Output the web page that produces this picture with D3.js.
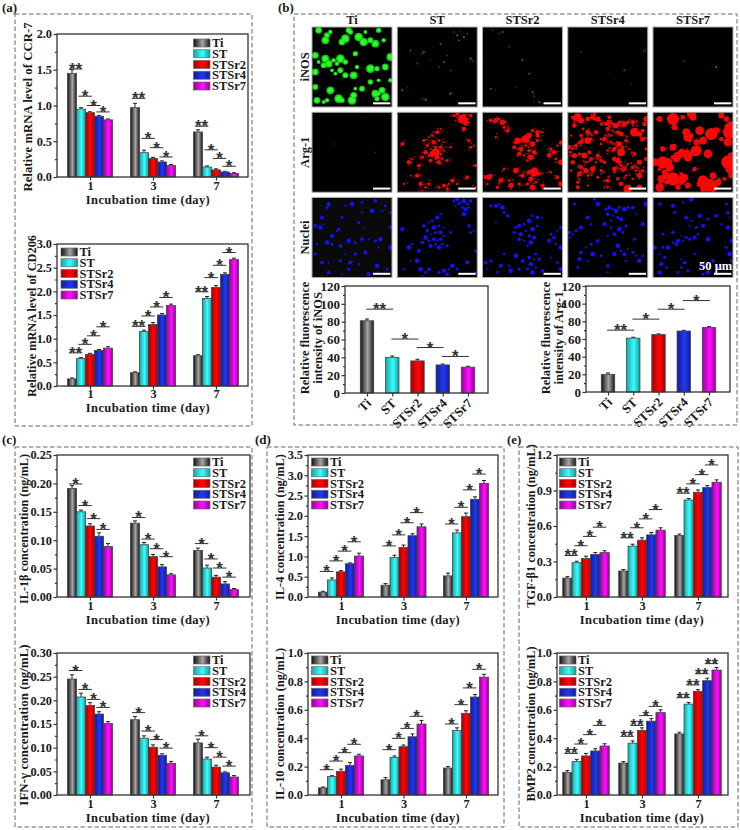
<!DOCTYPE html>
<html><head><meta charset="utf-8">
<script src="https://cdnjs.cloudflare.com/ajax/libs/d3/7.8.5/d3.min.js"></script>
<style>html,body{margin:0;padding:0;background:#fff}svg{display:block}
text{font-family:"Liberation Serif",serif;font-weight:bold;fill:#1a1a1a}</style></head>
<body><svg id="c" width="740" height="830"></svg>
<script>
const seriesNames=["Ti","ST","STSr2","STSr4","STSr7"];
const days=["1","3","7"];
const imageCols=["Ti","ST","STSr2","STSr4","STSr7"];
const imageRows=["iNOS","Arg-1","Nuclei"];

// values: three groups of five bars
const ccr7=[[1.45,.95,.9,.85,.8],[.97,.34,.26,.21,.16],[.63,.14,.1,.07,.05]];
const ccr7Err=[[.05,.02,.012,.012,.012],[.06,.035,.015,.015,.015],[.03,.015,.015,.01,.01]];
const ccr7Sig=[[1.51,1.13,1.0,.91],[1.10,.54,.41,.28],[.71,.38,.26,.15]];
const ccr7Marks=[["**","*","*","*"],["**","*","*","*"],["**","*","*","*"]];

const cd206=[[.15,.58,.67,.75,.8],[.28,1.15,1.3,1.5,1.7],[.64,1.85,2.08,2.36,2.67]];
const cd206Err=[[.02,.02,.02,.02,.03],[.02,.03,.04,.03,.03],[.02,.04,.04,.03,.03]];
const cd206Sig=[[.7,.88,1.06,1.25],[1.26,1.48,1.67,1.87],[1.99,2.29,2.55,2.82]];
const cd206Marks=[["**","*","*","*"],["**","*","*","*"],["**","*","*","*"]];

const il1b=[[.191,.15,.125,.107,.089],[.13,.092,.071,.053,.039],[.082,.051,.035,.023,.013]];
const il1bErr=[[.005,.003,.004,.006,.005],[.004,.004,.004,.004,.002],[.004,.005,.003,.004,.002]];
const il1bSig=[[.199,.161,.138,.119],[.14,.102,.085,.071],[.094,.067,.051,.035]];
const starOnly=[["*","*","*","*"],["*","*","*","*"],["*","*","*","*"]];

const ifng=[[.245,.207,.189,.171,.151],[.159,.12,.101,.084,.067],[.11,.076,.059,.047,.038]];
const ifngErr=[[.009,.008,.006,.005,.004],[.007,.005,.005,.003,.004],[.008,.004,.004,.002,.003]];
const ifngSig=[[.263,.223,.202,.185],[.174,.135,.117,.099],[.125,.1,.08,.061]];

const il4=[[.12,.42,.62,.82,1.01],[.29,.97,1.22,1.51,1.73],[.52,1.58,1.98,2.41,2.8]];
const il4Err=[[.02,.05,.03,.02,.07],[.04,.06,.06,.05,.07],[.07,.07,.09,.06,.07]];
const il4Sig=[[.63,.89,1.13,1.36],[1.26,1.53,1.83,2.08],[1.8,2.21,2.64,3.03]];

const il10=[[.05,.13,.167,.208,.275],[.107,.265,.34,.41,.5],[.19,.455,.575,.69,.83]];
const il10Err=[[.006,.006,.015,.02,.012],[.015,.01,.012,.02,.025],[.01,.018,.018,.018,.02]];
const il10Sig=[[.178,.239,.298,.357],[.319,.399,.469,.554],[.5,.636,.754,.885]];

const tgfb=[[.16,.29,.325,.36,.375],[.22,.43,.48,.525,.565],[.52,.82,.885,.925,.97]];
const tgfbErr=[[.012,.012,.02,.016,.016],[.012,.016,.02,.02,.02],[.012,.012,.02,.016,.02]];
const tgfbSig=[[.351,.433,.512,.59],[.5,.585,.66,.739],[.877,.956,1.034,1.116]];
const tgfbMarks=[["**","*","*","*"],["**","*","*","*"],["**","*","*","*"]];

const bmp2=[[.16,.235,.275,.31,.345],[.225,.365,.455,.52,.58],[.43,.64,.73,.805,.88]];
const bmp2Err=[[.012,.016,.018,.016,.016],[.01,.016,.018,.018,.02],[.012,.012,.012,.018,.018]];
const bmp2Sig=[[.293,.359,.425,.49],[.413,.49,.559,.624],[.685,.775,.854,.925]];
const bmp2Marks=[["**","*","*","*"],["**","**","*","*"],["**","**","**","**"]];

const inos=[81,40,36,31.5,29];
const inosErr=[2,1.5,1.8,1,1];
const inosSig=[94,60.5,51,41];
const inosMarks=["**","*","*","*"];
const arg1=[20,61,65,69,73];
const arg1Err=[1.5,1,.8,.8,1];
const arg1Sig=[70,82.5,93.7,103.5];
const arg1Marks=["**","*","*","*"];

const greenTi=[[45,25],[40,40],[55,15],[100,35],[115,15],[90,45],[160,15],[175,40],[190,50],[215,40],[155,45],[130,80],[10,85],[20,105],[35,115],[50,110],[65,100],[85,95],[100,105],[10,135],[70,140],[100,145],[125,145],[135,120],[175,125],[195,125],[220,120],[200,160],[10,180],[55,190],[45,220],[80,215],[90,220],[125,205],[130,185],[150,185],[190,200],[200,200],[220,210],[175,165],[15,220],[35,225],[110,10],[235,90],[235,160],[140,30],[200,10],[20,10],[60,130],[85,130],[40,95],[75,110],[120,220],[195,215],[210,190]];
const greenST=[[170,15],[180,25],[190,12],[200,30],[210,20],[185,40],[170,45],[75,80],[80,76],[150,85],[220,95],[225,102],[130,50],[100,100],[125,120],[15,190],[75,215],[85,218],[160,130],[40,70],[110,60],[60,110],[140,105],[30,180],[160,200]];
const greenSr2=[[155,210],[150,195],[152,203],[170,225],[175,227],[25,185],[40,190],[50,20],[60,15],[100,180],[120,100],[80,60],[140,140],[155,225],[30,10]];
const greenSr4=[[228,75],[232,70],[125,135],[170,130],[190,170],[40,75]];
const greenSr7=[[92,103],[190,120]];
const redTi=[[160,15],[70,95],[15,115],[190,120]];

const nucTi=[[45,30],[50,20],[100,25],[120,20],[150,15],[190,10],[210,40],[90,60],[30,60],[150,45],[180,40],[220,25],[10,85],[35,80],[80,95],[60,115],[75,100],[110,130],[130,135],[150,125],[170,125],[190,130],[205,125],[15,140],[45,135],[60,140],[85,145],[100,170],[130,170],[160,165],[200,150],[235,150],[10,170],[30,195],[50,195],[85,190],[115,195],[140,200],[195,205],[225,215],[50,225],[90,230],[110,215],[170,230],[200,225],[25,90],[235,45],[235,90],[155,90],[140,75]];
const nucST=[[170,10],[180,5],[190,15],[200,10],[210,20],[220,10],[175,25],[195,30],[205,35],[215,30],[200,50],[185,20],[80,85],[95,75],[105,70],[120,60],[130,50],[110,90],[125,85],[90,100],[100,110],[115,105],[130,105],[140,115],[85,120],[95,130],[110,125],[120,130],[130,125],[100,145],[115,140],[125,150],[135,140],[75,135],[140,90],[150,145],[65,160],[45,140],[35,150],[160,105],[215,85],[230,100],[220,105],[15,95],[20,215],[70,215],[85,225],[95,215],[75,235],[125,225],[140,220],[155,215],[165,205],[180,215],[150,230],[40,190],[235,160],[210,195],[235,225],[60,190]];
const nucSr2=[[25,25],[40,25],[50,20],[60,30],[65,45],[75,55],[40,75],[100,90],[110,85],[125,80],[140,70],[150,55],[165,60],[180,60],[95,105],[115,110],[130,100],[150,95],[165,85],[110,125],[125,130],[140,115],[155,120],[135,145],[145,135],[205,110],[215,120],[225,100],[235,90],[200,130],[220,140],[235,150],[160,170],[140,180],[155,185],[170,185],[145,200],[160,210],[150,225],[135,215],[10,195],[15,215],[25,190],[55,205],[80,205],[85,220],[110,215],[120,190],[205,180],[225,195],[235,215],[65,170],[100,175],[45,225],[180,220]];
const nucSr4=[[115,35],[125,30],[135,35],[145,40],[155,30],[120,50],[135,55],[150,60],[160,65],[130,70],[170,35],[180,30],[195,30],[205,50],[175,85],[110,80],[130,90],[155,95],[165,105],[140,110],[120,115],[20,20],[60,60],[70,80],[90,20],[80,5],[5,105],[15,110],[25,100],[40,90],[8,120],[150,145],[160,160],[170,170],[180,155],[195,165],[140,170],[205,175],[215,190],[225,175],[40,165],[55,150],[70,140],[35,185],[60,190],[75,170],[100,175],[120,205],[120,225],[200,125],[225,80],[175,190],[235,20],[30,210],[90,130]];
const nucSr7=[[20,20],[60,25],[90,15],[115,5],[220,20],[225,45],[230,60],[65,45],[100,60],[115,70],[140,55],[165,65],[190,55],[110,85],[130,90],[150,85],[205,80],[225,90],[30,110],[60,105],[85,115],[100,120],[75,130],[60,135],[45,150],[30,150],[70,140],[90,130],[110,125],[125,120],[135,110],[165,125],[220,150],[235,130],[20,170],[35,180],[25,200],[40,210],[20,225],[85,210],[95,195],[85,185],[105,220],[150,205],[170,210],[165,225],[150,230],[195,210],[215,200],[235,190],[5,150],[125,170],[230,170],[75,225],[180,190]];
const redBlobST=[[105,125],[115,120],[120,135],[195,20],[205,30]];
const redBlobSr2=[[105,85],[130,80],[165,70],[155,180],[20,195]];
const redBlobSr4=[[40,25],[30,15],[60,20],[200,60],[215,65],[60,85],[225,55],[50,130],[160,120],[230,35],[180,230],[215,225]];
const redBlobSr7=[[105,75],[175,65],[85,122],[225,150],[90,200],[150,205],[150,225],[180,225],[30,150],[40,190],[60,200],[105,135],[130,115],[205,10],[235,40],[60,20],[120,15],[230,60],[50,165],[170,215],[140,215]];
const redExtraSr4=[[15,15],[20,40],[45,50],[75,15],[100,35],[125,15],[10,70],[40,70],[85,60],[100,95],[20,130],[35,125],[65,120],[85,150],[100,145],[15,150],[10,175],[55,175],[90,195],[30,225],[60,220],[150,200],[160,215],[195,200],[215,150],[235,110],[235,140],[185,110],[110,150],[140,140]];

const svg=d3.select("#c");
const defs=svg.append("defs");
const gradStops={Ti:["#111","#a8a4a4","#161616"],ST:["#12a8a8","#3dfcfc","#0fa0a0"],STSr2:["#a80000","#ff0505","#a80000"],STSr4:["#101c9c","#2238f0","#101c9c"],STSr7:["#9a009a","#ff10ff","#9a009a"]};
seriesNames.forEach((s,i)=>{
  const g=defs.append("linearGradient").attr("id","g"+i).attr("x1",0).attr("x2",1).attr("y1",0).attr("y2",0);
  [0,.55,1].forEach((o,k)=>g.append("stop").attr("offset",o).attr("stop-color",gradStops[s][k]));
});
const sigOffsets=[-1.6,-.55,.4,1.45];
const fmt={f1:d3.format(".1f"),f2:d3.format(".2f"),d:d3.format("d")};

function axisStyle(g){
  g.selectAll("path,line").attr("stroke","#333").attr("stroke-width",1.2);
  g.selectAll("text").attr("fill","#1a1a1a");
}
function drawY(y,x0,ticks,f,size){
  const ax=svg.append("g").attr("transform",`translate(${x0},0)`)
    .call(d3.axisLeft(y).tickValues(ticks).tickFormat(f).tickSize(3.5).tickPadding(1.5).tickSizeOuter(0));
  axisStyle(ax);ax.selectAll("text").style("font-size",size+"px");ax.select("path").remove();
  const minor=ticks.slice(1).map((t,i)=>(t+ticks[i])/2);
  const mn=svg.append("g").attr("transform",`translate(${x0},0)`)
    .call(d3.axisLeft(y).tickValues(minor).tickFormat("").tickSize(2).tickSizeOuter(0));
  axisStyle(mn);mn.select("path").remove();
}
function border(x0,x1,yT,yB){
  svg.append("rect").attr("x",x0).attr("y",yT).attr("width",x1-x0).attr("height",yB-yT)
    .attr("fill","none").attr("stroke","#333").attr("stroke-width",1.3);
}
function stars(cx,cy,w,label){
  svg.append("line").attr("x1",cx-w/2).attr("x2",cx+w/2).attr("y1",cy).attr("y2",cy).attr("stroke","#333").attr("stroke-width",1);
  svg.append("text").attr("x",cx).attr("y",cy+6).attr("text-anchor","middle")
    .style("font-family","'Liberation Sans',sans-serif").style("font-size","17px").style("fill","#333").text(label);
}
function bar(x,w,yTop,yBase,i,err,yErr){
  svg.append("line").attr("x1",x+w/2).attr("x2",x+w/2).attr("y1",yTop).attr("y2",yErr).attr("stroke","#222").attr("stroke-width",1);
  svg.append("line").attr("x1",x+w/2-2).attr("x2",x+w/2+2).attr("y1",yErr).attr("y2",yErr).attr("stroke","#222").attr("stroke-width",1);
  svg.append("rect").attr("x",x).attr("y",yTop).attr("width",w).attr("height",yBase-yTop)
    .attr("fill",`url(#g${i})`).attr("stroke","#444").attr("stroke-width",.8);
}
function groupedChart(c){
  const y=d3.scaleLinear().domain([0,c.yMax]).range([c.yB,c.yT]);
  const gx=d3.scalePoint().domain(days).range(c.centers);
  const bx=d3.scaleBand().domain(seriesNames).range([-c.gw/2,c.gw/2]);
  c.data.forEach((row,g)=>row.forEach((v,i)=>{
    bar(gx(days[g])+bx(seriesNames[i]),bx.bandwidth(),y(v),c.yB,i,c.err[g][i],y(v+c.err[g][i]));
  }));
  c.sig.forEach((row,g)=>row.forEach((v,k)=>{
    stars(gx(days[g])+sigOffsets[k]*bx.bandwidth(),y(v),13.5,c.marks[g][k]);
  }));
  border(c.x0,c.x1,c.yT,c.yB);
  drawY(y,c.x0,d3.range(0,c.yMax+c.step/2,c.step),c.fmt,12.3);
  const tickBase=c.xLabelY-13.9;
  const ax=svg.append("g").attr("transform",`translate(0,${c.yB})`)
    .call(d3.axisBottom(gx).tickSize(3.5).tickPadding(2).tickSizeOuter(0));
  axisStyle(ax);ax.select("path").remove();ax.selectAll("text").style("font-size","12.3px");
  ax.selectAll("text").attr("y",null).attr("dy",null).attr("transform",`translate(0,${tickBase-c.yB})`);
  svg.append("text").attr("x",c.labelX).attr("y",c.xLabelY).attr("text-anchor","middle").style("font-size","12.5px").style("letter-spacing","0.4px").text("Incubation time (day)");
  svg.append("text").attr("transform",`translate(${c.yLabelX},${c.yLabelY}) rotate(-90)`).attr("text-anchor","middle").style("font-size",c.yFont+"px").text(c.yLabel);
  const rows=d3.scalePoint().domain(seriesNames).range([c.legY,c.legY+43]);
  seriesNames.forEach((s,i)=>{
    svg.append("rect").attr("x",c.legX).attr("y",rows(s)-4).attr("width",16.5).attr("height",8)
      .attr("fill",`url(#g${i})`).attr("stroke","#666").attr("stroke-width",.7);
    svg.append("text").attr("x",c.legX+18.5).attr("y",rows(s)+4).style("font-size","12.5px").text(s);
  });
}
function singleChart(c){
  const y=d3.scaleLinear().domain([0,120]).range([c.yB,c.yT]);
  const x=d3.scalePoint().domain(seriesNames).range(c.centers);
  const step=x.step();
  c.data.forEach((v,i)=>bar(x(seriesNames[i])-6.7,13.4,y(v),c.yB,i,c.err[i],y(v+c.err[i])));
  c.sig.forEach((v,k)=>stars(x(seriesNames[k])+step/2,y(v),27,c.marks[k]));
  border(c.x0,c.x1,c.yT,c.yB);
  drawY(y,c.x0,d3.range(0,121,20),fmt.d,13);
  const ax=svg.append("g").attr("transform",`translate(0,${c.yB})`)
    .call(d3.axisBottom(x).tickSize(3.5).tickSizeOuter(0).tickFormat(""));
  axisStyle(ax);ax.select("path").remove();
  seriesNames.forEach(s=>{
    svg.append("text").attr("transform",`translate(${x(s)+5},${c.yB+11}) rotate(-45)`).attr("text-anchor","end").style("font-size","13px").text(s);
  });
  const t=svg.append("text").attr("transform",`translate(${c.yLabelX},${c.yLabelY}) rotate(-90)`).attr("text-anchor","middle").style("font-size","12.5px");
  t.append("tspan").attr("x",0).attr("dy",0).text("Relative fluorescence");
  t.append("tspan").attr("x",0).attr("dy",13).text(c.yLabel);
}

// dashed frames
const frames=[[15,252,14,426],[294,737,14,425],[15,252,447,827],[267,504,447,827],[519,738,447,827]];
frames.forEach(f=>svg.append("rect").attr("x",f[0]).attr("y",f[2]).attr("width",f[1]-f[0]).attr("height",f[3]-f[2])
  .attr("fill","none").attr("stroke","#666").attr("stroke-width",1).attr("stroke-dasharray","4.5,2.5"));
[["(a)",2,12],["(b)",278,12],["(c)",2,444],["(d)",255,444],["(e)",507,444]].forEach(p=>
  svg.append("text").attr("x",p[1]).attr("y",p[2]).style("font-size","13px").text(p[0]));

const colA={x0:57,x1:248,centers:[90,216],gw:45,labelX:148};
groupedChart({...colA,yT:34,yB:177,yMax:2,step:.5,fmt:fmt.f1,data:ccr7,err:ccr7Err,sig:ccr7Sig,marks:ccr7Marks,xLabelY:204,yLabelX:32,yLabelY:107,yFont:12.8,yLabel:"Relative mRNA level of CCR-7",legX:193.5,legY:43});
groupedChart({...colA,yT:244,yB:386,yMax:3,step:.5,fmt:fmt.f1,data:cd206,err:cd206Err,sig:cd206Sig,marks:cd206Marks,xLabelY:412,yLabelX:36,yLabelY:316,yFont:12.3,yLabel:"Relative mRNA level of CD206",legX:61,legY:252});
const colC={x0:57,x1:250,centers:[90,216],gw:45,labelX:148};
groupedChart({...colC,yT:455,yB:597,yMax:.25,step:.05,fmt:fmt.f2,data:il1b,err:il1bErr,sig:il1bSig,marks:starOnly,xLabelY:624,yLabelX:28,yLabelY:529,yFont:12.2,yLabel:"IL-1β concentration (ng/mL)",legX:193.5,legY:462});
groupedChart({...colC,yT:653,yB:795,yMax:.3,step:.05,fmt:fmt.f2,data:ifng,err:ifngErr,sig:ifngSig,marks:starOnly,xLabelY:822,yLabelX:28,yLabelY:725,yFont:13,yLabel:"IFN-γ concentration (ng/mL)",legX:193.5,legY:660});
const colD={x0:308,x1:498,centers:[341,466],gw:45,labelX:398};
groupedChart({...colD,yT:455,yB:597,yMax:3.5,step:.5,fmt:fmt.f1,data:il4,err:il4Err,sig:il4Sig,marks:starOnly,xLabelY:624,yLabelX:284,yLabelY:527,yFont:12.4,yLabel:"IL-4 concentration (ng/mL)",legX:311.5,legY:462});
groupedChart({...colD,yT:653,yB:795,yMax:1,step:.2,fmt:fmt.f1,data:il10,err:il10Err,sig:il10Sig,marks:starOnly,xLabelY:822,yLabelX:284,yLabelY:724,yFont:12.4,yLabel:"IL-10 concentration (ng/mL)",legX:311.5,legY:660});
const colE={x0:557,x1:728,centers:[586,698],gw:46.5,labelX:642};
groupedChart({...colE,yT:455,yB:597,yMax:1.2,step:.3,fmt:fmt.f1,data:tgfb,err:tgfbErr,sig:tgfbSig,marks:tgfbMarks,xLabelY:624,yLabelX:535,yLabelY:526,yFont:12.3,yLabel:"TGF-β1 concentration (ng/mL)",legX:559.5,legY:462});
groupedChart({...colE,yT:653,yB:795,yMax:1,step:.2,fmt:fmt.f1,data:bmp2,err:bmp2Err,sig:bmp2Sig,marks:bmp2Marks,xLabelY:822,yLabelX:535,yLabelY:724,yFont:12.3,yLabel:"BMP2 concentration (ng/mL)",legX:559.5,legY:660});

singleChart({x0:345,x1:488,yT:286,yB:393,centers:[367,468],data:inos,err:inosErr,sig:inosSig,marks:inosMarks,yLabelX:309,yLabelY:338,yLabel:"intensity of iNOS"});
singleChart({x0:586,x1:730,yT:286,yB:392,centers:[608,709],data:arg1,err:arg1Err,sig:arg1Sig,marks:arg1Marks,yLabelX:550,yLabelY:338,yLabel:"intensity of Arg-1"});

// micrographs
const colX=d3.scalePoint().domain(imageCols).range([312,653]);
const rowY=d3.scalePoint().domain(imageRows).range([27,197.5]);
const imgSize=80;
const grid=d3.scaleLinear().domain([0,240]).range([0,imgSize]);
const greenCols=[greenTi,greenST,greenSr2,greenSr4,greenSr7];
const nucCols=[nucTi,nucST,nucSr2,nucSr4,nucSr7];
const blobCols=[[],redBlobST,redBlobSr2,redBlobSr4,redBlobSr7];
const extraCols=[[],[],[],redExtraSr4,[]];
const speck=[[-7,-5],[6,-7],[8,5],[-5,7],[0,10],[-10,1],[11,-2],[3,-11]];
const sizeCycle=[1,1.3,.75,1.45,.9,1.15,.65];
defs.append("clipPath").attr("id","imgClip").append("rect").attr("width",imgSize).attr("height",imgSize);
function dots(g,pts,r,fill,op){
  g.selectAll(null).data(pts).enter().append("circle").attr("cx",d=>grid(d[0])).attr("cy",d=>grid(d[1]))
   .attr("r",(d,i)=>r*sizeCycle[i%sizeCycle.length]).attr("fill",fill).attr("opacity",op||1);
}
imageCols.forEach((col,ci)=>{
  svg.append("text").attr("x",colX(col)+imgSize/2).attr("y",24).attr("text-anchor","middle").style("font-size","12.5px").text(col);
  imageRows.forEach((row,ri)=>{
    const o=svg.append("g").attr("transform",`translate(${colX(col)},${rowY(row)})`);
    o.append("rect").attr("width",imgSize).attr("height",imgSize).attr("fill",(ri==2&&ci==0)?"#0a0a0a":"#000");
    const g=o.append("g").attr("clip-path","url(#imgClip)");
    if(ri==0){
      if(ci==0){dots(g,greenCols[0],3,"#18c818");dots(g,greenCols[0],1.9,"#2aff2a");}
      else{dots(g,greenCols[ci],.75,"#1f9c1f",[0,.9,.8,.6,.9][ci]);}
    }else if(ri==1){
      if(ci==0){dots(g,redTi,.6,"#6a1010");}
      else{
        const pts=nucCols[ci];
        const spk=pts.flatMap((p,i)=>[0,1,2].map(k=>{const s=speck[(i*3+k*5)%speck.length];return [p[0]+s[0],p[1]+s[1]];}));
        dots(g,spk,ci==3?1:.7,"#d00c0c",ci==1?.7:.9);
        dots(g,pts,ci==4?3:ci==1?1.5:1.9,"#f00808");
        dots(g,extraCols[ci],1.8,"#f00808");
        dots(g,blobCols[ci],ci==4?4.6:3,"#ff0505");
      }
    }else{
      dots(g,nucCols[ci],1.6,"#1212f5");
    }
    o.append("rect").attr("width",imgSize).attr("height",imgSize).attr("fill","none").attr("stroke","#aaa").attr("stroke-width",1);
    o.append("rect").attr("x",grid(183)).attr("y",grid(226)).attr("width",grid(52)).attr("height",2).attr("fill","#fff");
  });
});
imageRows.forEach(r=>{
  svg.append("text").attr("transform",`translate(309,${rowY(r)+imgSize/2}) rotate(-90)`).attr("text-anchor","middle").style("font-size","12.5px").text(r);
});
svg.append("text").attr("x",699).attr("y",270).style("font-size","12.5px").style("fill","#fff").text("50 μm");
</script></body></html>
